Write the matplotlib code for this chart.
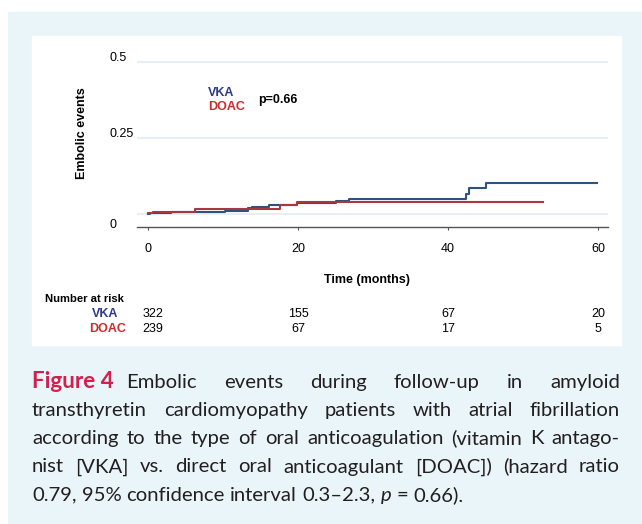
import matplotlib
matplotlib.use("Agg")
import matplotlib.pyplot as plt
import matplotlib.transforms as mtransforms
from matplotlib.patches import Rectangle

W, H = 642, 524

# cumulative embolic events
vka_t = [0, 0.2, 3.1, 10.2, 13.3, 13.9, 16.1, 19.9, 25.0, 26.8, 42.4, 42.85, 45.1, 59.8]
vka_y = [0, 0.002, 0.008, 0.011, 0.020, 0.024, 0.031, 0.036, 0.044, 0.050, 0.067, 0.085, 0.103, 0.103]
doac_t = [0, 0.66, 6.3, 17.6, 19.9, 25.0, 52.6]
doac_y = [0.004, 0.008, 0.015, 0.028, 0.038, 0.040, 0.040]

xticks = [0, 20, 40, 60]
yticks = [0, 0.25, 0.5]
ylabels = ["0", "0.25", "0.5"]
vka_risk = [322, 155, 67, 20]
doac_risk = [239, 67, 17, 5]

caption_lines = [
    "Embolic events during follow-up in amyloid",
    "transthyretin cardiomyopathy patients with atrial fibrillation",
    "according to the type of oral anticoagulation (vitamin K antago-",
    "nist [VKA] vs. direct oral anticoagulant [DOAC]) (hazard ratio",
]
caption_last = ["0.79,", "95%", "confidence", "interval", "0.3\u20132.3,", "p", "=", "0.66)."]

blue = "#2c5384"
red = "#a83840"
navy_txt = "#2e3a8a"
red_txt = "#cf2a2a"
chart_font = "Liberation Sans"
cap_font = "Lato"

fig = plt.figure(figsize=(W / 100, H / 100), dpi=100)
fig.patch.set_facecolor("white")
fig.add_artist(Rectangle((8 / W, 0), 1, 1 - 12 / H, transform=fig.transFigure,
                         color="#e9f5f8", zorder=-2))
fig.add_artist(Rectangle((32 / W, 1 - 345 / H), (621 - 32) / W, (345 - 36) / H,
                         transform=fig.transFigure, color="white", zorder=-1))

ax = fig.add_axes([137 / W, 1 - 227 / H, 471 / W, (227 - 59.4) / H])
ax.patch.set_alpha(0)
ax.step(vka_t, vka_y, where="post", color=blue, lw=1.5, zorder=3)
ax.step(doac_t, doac_y, where="post", color=red, lw=1.5, zorder=3)
ax.set_xlim(-1.47, 61.33)
ax.set_ylim(-0.043, 0.51)

for s in ["top", "right", "left"]:
    ax.spines[s].set_visible(False)
ax.spines["bottom"].set_color("#555555")
ax.spines["bottom"].set_linewidth(1.0)

ax.set_xticks(xticks)
ax.set_xticklabels([str(v) for v in xticks], fontfamily=chart_font, fontsize=9)
ax.tick_params(axis="x", length=2, width=0.8, color="#555555", pad=9.8)
ax.set_yticks(yticks)
ax.set_yticklabels([])
ax.tick_params(axis="y", length=0)
ax.grid(axis="y", color="#e3eef4", lw=1.3)
ax.set_axisbelow(True)

ytrans = mtransforms.blended_transform_factory(fig.transFigure, ax.transData)
for v, lab in zip(yticks, ylabels):
    if v > 0:
        tr = mtransforms.offset_copy(ytrans, fig=fig, y=-1.5, units="dots")
        ax.text(110 / W, v, lab, transform=tr, ha="left", va="bottom",
                fontfamily=chart_font, fontsize=9, clip_on=False)
    else:
        tr = mtransforms.offset_copy(ytrans, fig=fig, y=-5, units="dots")
        ax.text(110 / W, v, lab, transform=tr, ha="left", va="top",
                fontfamily=chart_font, fontsize=9, clip_on=False)

fig.text(82 / W, 1 - 133 / H, "Embolic events", rotation=90, ha="center", va="center",
         fontfamily=chart_font, fontsize=9, fontweight="bold")
fig.text(367 / W, 1 - 280.5 / H, "Time (months)", ha="center", va="center",
         fontfamily=chart_font, fontsize=9, fontweight="bold")

# legend block
fig.text(208 / W, 1 - 93 / H, "VKA", ha="left", va="center", color=navy_txt,
         fontfamily=chart_font, fontsize=9, fontweight="bold")
fig.text(208 / W, 1 - 107.5 / H, "DOAC", ha="left", va="center", color=red_txt,
         fontfamily=chart_font, fontsize=9, fontweight="bold")
fig.text(258 / W, 1 - 100 / H, "p=0.66", ha="left", va="center", color="black",
         fontfamily=chart_font, fontsize=9, fontweight="bold")

# number at risk table
fig.text(45 / W, 1 - 299 / H, "Number at risk", ha="left", va="center",
         fontfamily=chart_font, fontsize=8.1, fontweight="bold")
fig.text(118 / W, 1 - 313.7 / H, "VKA", ha="right", va="center", color=navy_txt,
         fontfamily=chart_font, fontsize=9, fontweight="bold")
fig.text(126 / W, 1 - 328.7 / H, "DOAC", ha="right", va="center", color=red_txt,
         fontfamily=chart_font, fontsize=9, fontweight="bold")
rtrans = mtransforms.blended_transform_factory(ax.transData, fig.transFigure)
for row_y, vals in [(313.7, vka_risk), (328.7, doac_risk)]:
    for i, (t, n) in enumerate(zip(xticks, vals)):
        if i == 0:
            ax.text(t - 0.7, 1 - row_y / H, str(n), transform=rtrans, ha="left", va="center",
                    fontfamily=chart_font, fontsize=9, clip_on=False)
        else:
            ax.text(t, 1 - row_y / H, str(n), transform=rtrans, ha="center", va="center",
                    fontfamily=chart_font, fontsize=9, clip_on=False)

# caption, justified like the journal layout
L, R = 32, 620
baselines = [387.7, 416.0, 444.3, 472.5, 500.7]
cap_size = 14.6
renderer = fig.canvas.get_renderer()


def width_of(t):
    return t.get_window_extent(renderer).width


def space_width():
    a = fig.text(0, 0, "a a", fontfamily=cap_font, fontsize=cap_size)
    b = fig.text(0, 0, "aa", fontfamily=cap_font, fontsize=cap_size)
    s = width_of(a) - width_of(b)
    a.remove()
    b.remove()
    return s


def place_line(pieces, base, justify, start=L):
    texts = [fig.text(0, 1 - base / H, w, ha="left", va="baseline", **kw) for w, kw in pieces]
    widths = [width_of(t) for t in texts]
    if justify:
        gap = (R - start - sum(widths)) / (len(texts) - 1)
    else:
        gap = space_width()
    x = start
    for t, w in zip(texts, widths):
        t.set_x(x / W)
        x += w + gap


normal = dict(fontfamily=cap_font, fontsize=cap_size, color="#231f20")
label = fig.text(L / W, 1 - baselines[0] / H, "Figure 4", ha="left", va="baseline",
                 fontfamily=cap_font, fontsize=cap_size + 1.6, fontweight="bold", color="#d31f4f")
first_start = L + width_of(label) + space_width() * 2.4
for k, line in enumerate(caption_lines):
    pieces = [(w, normal) for w in line.split(" ")]
    place_line(pieces, baselines[k], True, first_start if k == 0 else L)

last = [(w, dict(normal, fontstyle="italic") if w == "p" else normal) for w in caption_last]
place_line(last, baselines[4], False)

fig.savefig("out.png", dpi=100, facecolor=fig.get_facecolor())
